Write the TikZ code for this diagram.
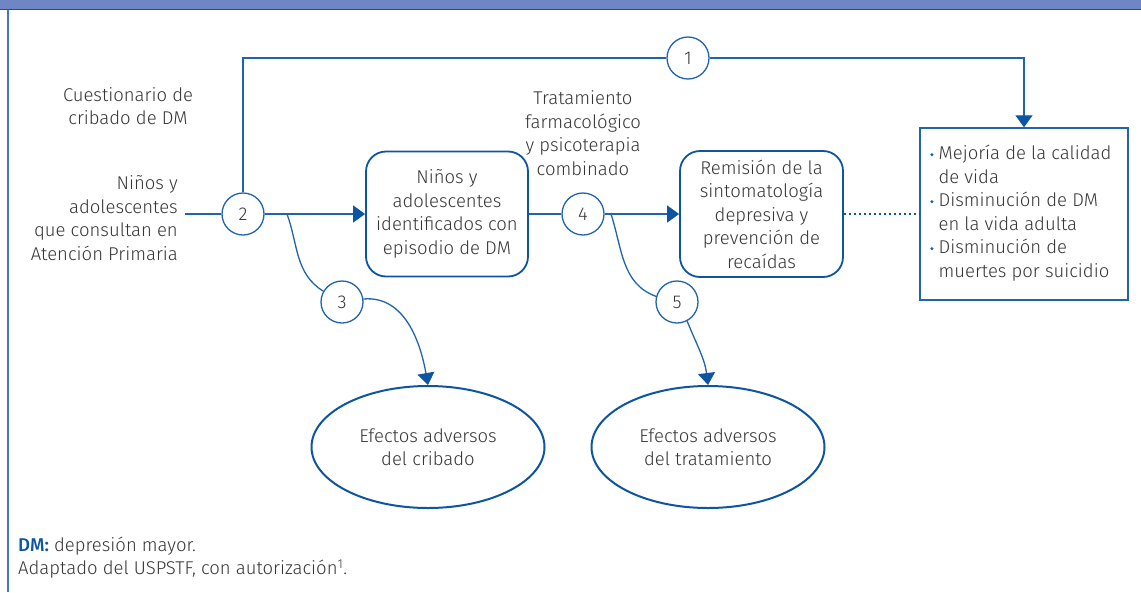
\documentclass[tikz,border=0pt]{standalone}
\usepackage{fontspec}
\setmainfont{Fira Sans}[UprightFont={* Light},BoldFont={* Medium}]
\usetikzlibrary{arrows.meta,shapes.geometric}
\definecolor{lblue}{HTML}{2063AE}
\definecolor{dblue}{HTML}{0D55A2}
\definecolor{hbar}{HTML}{6E86C4}
\definecolor{txt}{HTML}{353535}
\newcommand{\bul}{\tikz[baseline=0pt]\fill[lblue] (0pt,5pt) circle[radius=1.7pt];}
\begin{document}
\begin{tikzpicture}[x=1pt,y=-1pt,
  every node/.style={text=txt, font=\fontsize{18.5}{23.5}\selectfont},
  conn/.style={draw=lblue, line width=1.3pt},
  arr/.style={conn, -{Triangle[width=17pt,length=12pt,color=dblue]}},
  dotconn/.style={draw=dblue, line width=2.2pt, dash pattern=on 2.2pt off 2.8pt},
  num/.style={circle, draw=lblue, line width=1.3pt, fill=white, minimum size=42pt, inner sep=0pt},
  rbox/.style={draw=dblue, line width=1.8pt, rounded corners=20pt, align=center, inner sep=0pt},
  sbox/.style={draw=lblue, line width=1.4pt, inner sep=0pt},
  ell/.style={ellipse, draw=dblue, line width=2pt, minimum width=233pt, minimum height=122pt, inner sep=0pt, align=center},
  lbl/.style={align=center, inner sep=0pt}
]
\useasboundingbox (0,0) rectangle (1141,592);
% header and frame
\fill[hbar] (0,0) rectangle (1141,8.5);
\draw[dblue, line width=1.5pt] (0,9.5) -- (1141,9.5);
\draw[lblue!85, line width=1.5pt] (8,10) -- (8,592);

% nodes
\node[num] (c1) at (688,58) {1};
\node[num] (c2) at (243,214) {2};
\node[num] (c3) at (342,302) {3};
\node[num] (c4) at (583,214) {4};
\node[num] (c5) at (677,302) {5};

\node[lbl] (tq) at (128,106) {Cuestionario de\\cribado de DM};
\node[lbl, align=right, anchor=east] (tn) at (178,218) {Niños y\\adolescentes\\que consultan en\\Atención Primaria};
\node[lbl] (tt) at (583,133) {Tratamiento\\farmacológico\\y psicoterapia\\combinado};

\node[rbox, minimum width=162pt, minimum height=125pt] (b1) at (447,214) {Niños y\\adolescentes\\identificados con\\episodio de DM};
\node[rbox, minimum width=163pt, minimum height=126pt] (b2) at (761.5,214) {Remisión de la\\sintomatología\\depresiva y\\prevención de\\recaídas};
\node[sbox, minimum width=208pt, minimum height=172pt] (b3) at (1024,214) {};
\node[lbl, anchor=north west] (bt) at (930,143) {%
  \begin{tabular}{@{}l@{\hspace{5pt}}l@{}}
  \bul & Mejoría de la calidad\\
  & de vida\\
  \bul & Disminución de DM\\
  & en la vida adulta\\
  \bul & Disminución de\\
  & muertes por suicidio
  \end{tabular}};

\node[ell] (e1) at (428,447) {Efectos adversos\\del cribado};
\node[ell] (e2) at (708,447) {Efectos adversos\\del tratamiento};

\node[lbl, align=left, anchor=west] (foot) at (18,557.5) {\textcolor{dblue}{\bfseries DM:} depresión mayor.\\Adaptado del USPSTF, con autorización\textsuperscript{1}.};

% connectors
\coordinate (s0) at (185,214);
\coordinate (k3) at (287,214);
\coordinate (k5) at (611,214);
\draw[conn] (c2.north) |- (c1.west);
\draw[arr] (c1.east) -| (b3.north);
\draw[conn] (s0) -- (c2.west);
\draw[arr] (c2.east) -- (b1.west);
\draw[conn] (b1.east) -- (c4.west);
\draw[arr] (c4.east) -- (b2.west);
\draw[dotconn] (b2.east) -- (b3.west);
\draw[conn] (k3) to[out=-70,in=148] (c3.150);
\draw[arr] (c3.8) to[out=5,in=100] (e1.north);
\draw[conn] (k5) to[out=-72,in=160] (c5.165);
\draw[arr] (c5.-62) to[out=-68,in=97] (e2.north);
\end{tikzpicture}
\end{document}
